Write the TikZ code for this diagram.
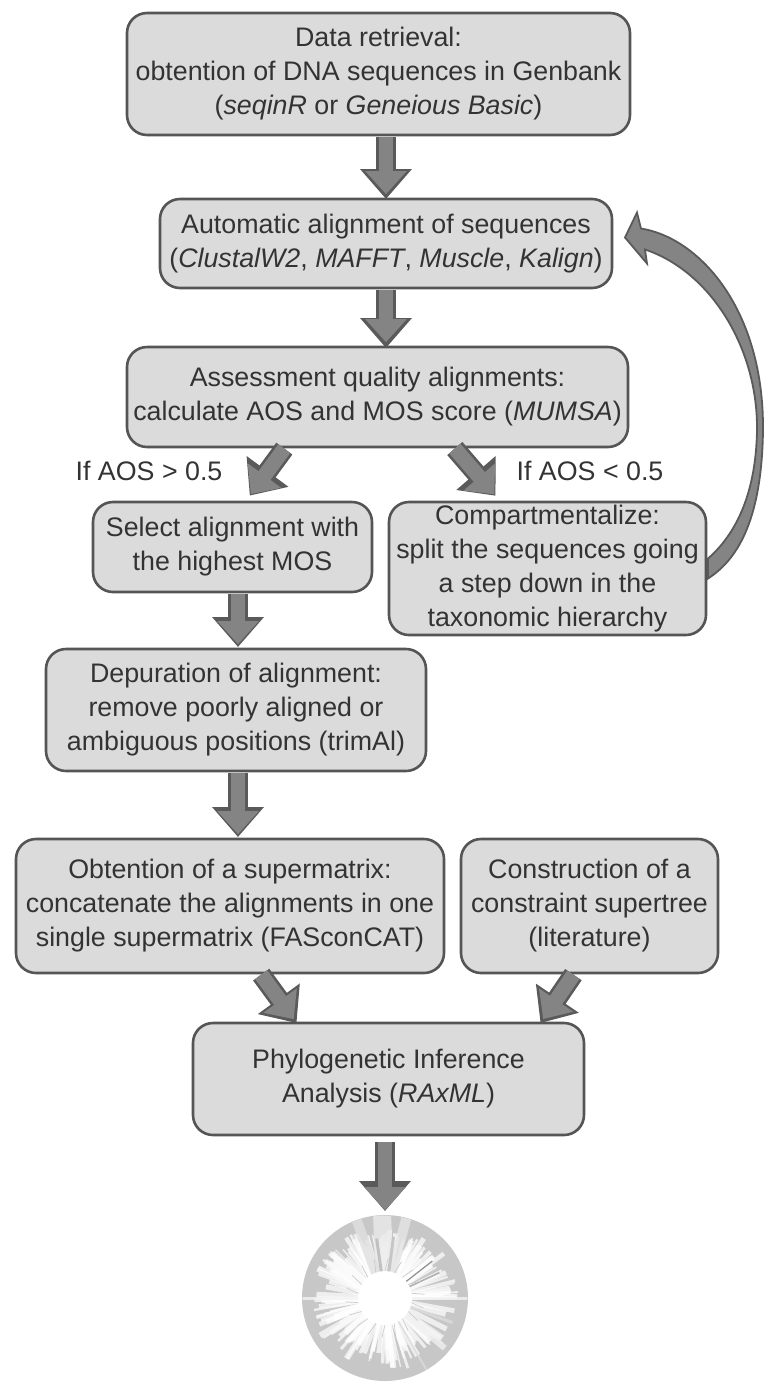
\documentclass[tikz,border=0pt]{standalone}
\usepackage{fontspec}
\setmainfont{Liberation Sans}
\usetikzlibrary{calc,arrows.meta}
\definecolor{boxfill}{HTML}{DBDBDB}
\definecolor{boxedge}{HTML}{555555}
\definecolor{arrowfill}{HTML}{848484}
\definecolor{arrowedge}{HTML}{5A5A5A}
\definecolor{inktext}{HTML}{333333}
\begin{document}
\begin{tikzpicture}[x=0.5pt,y=-0.5pt,
  stage/.style={draw=boxedge,fill=boxfill,line width=1.3pt,rounded corners=10pt,
    align=center,inner sep=0pt,outer sep=0pt,text=inktext,font=\fontsize{13.4}{17}\selectfont},
  tag/.style={inner sep=0pt,text=inktext,font=\fontsize{13.4}{17}\selectfont},
  blockarrow/.style={draw=arrowedge,line width=10pt,-{Triangle[length=15pt,width=25pt]},
    postaction={draw=arrowfill,line width=7.4pt,shorten >=2.4pt,-{Triangle[length=11.5pt,width=20pt]}}}]
\useasboundingbox (0,0) rectangle (764,1382);

% Process stages
\node[stage,minimum width=251.5pt,minimum height=61pt] (retrieval) at (378.5,74)
  {Data retrieval:\\obtention of DNA sequences in Genbank\\(\textit{seqinR} or \textit{Geneious Basic})};
\node[stage,minimum width=226pt,minimum height=44.5pt] (autoalign) at (386,243.5)
  {Automatic alignment of sequences\\(\textit{ClustalW2}, \textit{MAFFT}, \textit{Muscle}, \textit{Kalign})};
\node[stage,minimum width=250.5pt,minimum height=50pt] (assess) at (377.5,397)
  {Assessment quality alignments:\\calculate AOS and MOS score (\textit{MUMSA})};
\node[stage,minimum width=139.5pt,minimum height=45pt] (select) at (232.5,547)
  {Select alignment with\\the highest MOS};
\node[stage,minimum width=158.5pt,minimum height=66.5pt] (split) at (547.5,568.5)
  {Compartmentalize:\\split the sequences going\\a step down in the\\taxonomic hierarchy};
\node[stage,minimum width=190pt,minimum height=61pt] (depurate) at (236,710)
  {Depuration of alignment:\\remove poorly aligned or\\ambiguous positions (trimAl)};
\node[stage,minimum width=214pt,minimum height=67pt] (supermatrix) at (230,906)
  {Obtention of a supermatrix:\\concatenate the alignments in one\\single supermatrix (FASconCAT)};
\node[stage,minimum width=128.5pt,minimum height=67pt] (supertree) at (589.5,906)
  {Construction of a\\constraint supertree\\(literature)};
\node[stage,minimum width=195.5pt,minimum height=56pt] (inference) at (388.5,1079)
  {Phylogenetic Inference\\Analysis (\textit{RAxML})};

% Branch conditions
\node[tag] (iflow) at (149,471) {If AOS > 0.5};
\node[tag] (ifhigh) at (590,471) {If AOS < 0.5};

% Circular tree
\node[circle,fill=black!22,minimum size=83pt,inner sep=0pt,outer sep=0pt] (tree) at (385,1298) {};
\begin{scope}
  \clip (tree.center) circle (82.5);
  \pgfmathsetseed{4217}
  \foreach \i in {1,...,170}{
    \pgfmathsetmacro{\ang}{rnd*360}
    \pgfmathsetmacro{\rlen}{50+rnd*24}
    \pgfmathsetmacro{\wid}{0.5+rnd*2.2}
    \draw[white,line width=\wid pt,opacity=0.7] (tree.center) -- ++(\ang:\rlen);
  }
  % Clades that reach the rim, and the darker branches among them
  \foreach \ang/\rlen/\wid/\tone in {
    268/84/9/8, 250/84/5/12, 285/84/5/10, 262/60/1.5/28, 278/62/1.5/26,
    180/84/1.5/5, 0/84/1.5/5, 215/62/5/2, 150/75/3/3, 35/70/3/4,
    322/60/0.6/55, 335/60/0.8/38, 20/72/1.5/14, 40/78/3/6, 60/84/1/14}{
    \draw[black!\tone!white,line width=\wid pt,opacity=0.8] (tree.center) -- ++(\ang:\rlen);
  }
  \fill[white] (tree.center) circle (27);
  \foreach \ang in {10,30,...,350}{
    \draw[black!20,line width=0.35pt] (tree.center) ++(\ang:27) -- ++(\ang+14:13);
  }
  \fill[white] (tree.center) circle (13);
\end{scope}

% Straight flow arrows
\coordinate (spine) at (386,0);
\coordinate (lowspine) at (238,0);
\draw[blockarrow,shorten <=1pt] (retrieval.south -| spine) -- (autoalign.north -| spine);
\draw[blockarrow,shorten <=1pt,shorten >=-0.5pt] (autoalign.south) -- (assess.north -| spine);
\draw[blockarrow,shorten >=1.5pt,shorten <=1pt] ($(assess.south)+(-92,0)$) -- ($(select.north)+(15.5,-4)$);
\draw[blockarrow,shorten >=1.5pt,shorten <=1pt] ($(assess.south)+(76,0)$) -- ($(split.north)+(-50,-4)$);
\draw[blockarrow,shorten <=1pt,shorten >=1pt] (select.south -| lowspine) -- (depurate.north -| lowspine);
\draw[blockarrow,shorten <=1pt,shorten >=1pt] (depurate.south -| lowspine) -- (supermatrix.north -| lowspine);
\draw[blockarrow,shorten <=1pt] ($(supermatrix.south)+(30,0)$) -- ($(inference.north)+(-92,0)$);
\draw[blockarrow,shorten <=1pt] ($(supertree.south)+(-15,0)$) -- ($(inference.north)+(152,0)$);
\draw[blockarrow,shorten <=3.5pt,shorten >=2pt] (inference.south -| tree.center) -- (tree.north);

% Return arrow from compartmentalization back to the alignment stage
\coordinate (returnfoot) at (split.east);
\coordinate (returnhead) at ($(autoalign.east)+(13,-6)$);
\filldraw[fill=arrowfill,draw=arrowedge,line width=0.9pt,line join=miter]
  ($(returnfoot)+(2,-10)$)
    .. controls (735,535) and (756,495) .. (757,430)
    .. controls (758,350) and (712,272) .. ($(returnhead)+(20,12)$)
  -- ($(returnhead)+(22,26)$)
  -- ($(returnhead)+(0,0)$)
  -- ($(returnhead)+(12,-25)$)
  -- ($(returnhead)+(16,-9)$)
    .. controls (700,238) and (764,310) .. (763,430)
    .. controls (762,505) and (745,555) .. ($(returnfoot)+(2,10)$)
  -- cycle;
\end{tikzpicture}
\end{document}
